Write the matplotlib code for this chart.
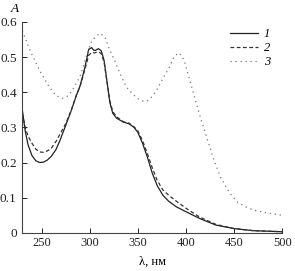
import matplotlib
matplotlib.use('Agg')
import matplotlib.pyplot as plt

# wavelengths (nm) and absorbance
wl_1 = [230, 233, 236, 240, 244, 248, 252, 256, 260, 265, 269, 275, 281, 286,
        290, 295, 299, 302, 304, 306, 309, 312, 315, 318, 321, 324, 328, 335,
        341, 346, 350, 355, 360, 365, 370, 376, 382, 390, 400, 414, 431, 450,
        470, 500]
abs_1 = [0.35, 0.29, 0.25, 0.22, 0.205, 0.20, 0.201, 0.207, 0.217, 0.237,
         0.262, 0.305, 0.349, 0.39, 0.418, 0.47, 0.522, 0.527, 0.52, 0.519,
         0.524, 0.518, 0.49, 0.43, 0.37, 0.34, 0.326, 0.315, 0.31, 0.30,
         0.286, 0.254, 0.215, 0.17, 0.135, 0.107, 0.09, 0.074, 0.06, 0.041,
         0.022, 0.012, 0.006, 0.003]

wl_2 = [230, 233, 236, 240, 244, 248, 252, 256, 260, 265, 270, 275, 281, 286,
        290, 295, 299, 302, 305, 309, 312, 315, 318, 321, 324, 328, 335, 341,
        346, 350, 355, 360, 365, 370, 376, 382, 390, 400, 414, 431, 450, 470,
        500]
abs_2 = [0.34, 0.30, 0.275, 0.255, 0.238, 0.23, 0.229, 0.233, 0.24, 0.26,
         0.285, 0.31, 0.35, 0.39, 0.416, 0.465, 0.505, 0.513, 0.512, 0.515,
         0.51, 0.485, 0.43, 0.375, 0.345, 0.33, 0.316, 0.312, 0.302, 0.29,
         0.262, 0.225, 0.185, 0.15, 0.122, 0.107, 0.09, 0.07, 0.045, 0.024,
         0.012, 0.006, 0.003]

wl_3 = [230, 238, 248, 258, 265, 272, 278, 284, 290, 296, 301, 306, 311, 316,
        321, 326, 332, 338, 345, 350, 356, 361, 365, 370, 376, 383, 388, 393,
        398, 402, 406, 410, 416, 422, 430, 436, 445, 453, 462, 471, 485, 500]
abs_3 = [0.575, 0.519, 0.462, 0.415, 0.39, 0.383, 0.39, 0.415, 0.445, 0.497,
         0.54, 0.558, 0.568, 0.555, 0.519, 0.49, 0.45, 0.415, 0.394, 0.382,
         0.374, 0.377, 0.388, 0.408, 0.439, 0.472, 0.503, 0.512, 0.492, 0.453,
         0.415, 0.375, 0.32, 0.268, 0.2, 0.158, 0.115, 0.088, 0.074, 0.064,
         0.056, 0.05]

labels = ['1', '2', '3']
x_ticks = [250, 300, 350, 400, 450, 500]
y_ticks = [0, 0.1, 0.2, 0.3, 0.4, 0.5, 0.6]
y_tick_labels = ['0', '0.1', '0.2', '0.3', '0.4', '0.5', '0.6']

plt.rcParams['font.family'] = ['Liberation Serif', 'DejaVu Serif']
plt.rcParams['font.size'] = 9

fig = plt.figure(figsize=(2.95, 2.71), dpi=100)
ax = fig.add_axes([0.0756, 0.141, 0.881, 0.778])

ax.plot(wl_1, abs_1, '-', color='#222222', linewidth=0.9, label=labels[0])
ax.plot(wl_2, abs_2, color='#333333', linewidth=0.9, linestyle=(0, (3, 2)), label=labels[1])
ax.plot(wl_3, abs_3, color='#777777', linewidth=0.9, linestyle=(0, (1, 3)), label=labels[2])

ax.set_xlim(230, 500)
ax.set_ylim(0, 0.6)
ax.set_xticks(x_ticks)
ax.set_yticks(y_ticks)
ax.set_yticklabels(y_tick_labels)
ax.tick_params(direction='in', length=3.5, width=0.7, colors='#222222')
ax.tick_params(axis='x', pad=3)
ax.tick_params(axis='y', pad=4, labelsize=9.5)

for side in ('top', 'right'):
    ax.spines[side].set_visible(False)
for side in ('left', 'bottom'):
    ax.spines[side].set_linewidth(0.8)
    ax.spines[side].set_color('#444444')

ax.set_xlabel('λ, нм', labelpad=5)
ax.text(-0.03, 1.06, 'A', transform=ax.transAxes, style='italic',
        ha='center', va='center', fontsize=9.5)

ax.legend(loc='upper left', bbox_to_anchor=(0.8, 0.97), frameon=False,
          prop={'style': 'italic', 'size': 9}, handlelength=2.2,
          handletextpad=0.5, labelspacing=0.15, borderpad=0, borderaxespad=0)

fig.savefig('out.png', dpi=100)
